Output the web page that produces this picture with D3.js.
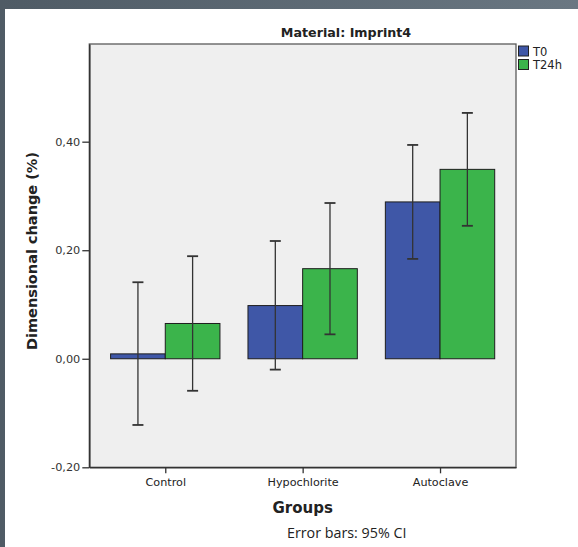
<!DOCTYPE html>
<html>
<head>
<meta charset="utf-8">
<script src="https://cdn.jsdelivr.net/npm/d3@7"></script>
<style>
  html, body { margin: 0; padding: 0; }
  body { width: 578px; height: 547px; overflow: hidden; background: #5d6973; }
  svg { display: block; }
</style>
</head>
<body>
<svg id="chart" width="578" height="547"></svg>
<script>
// data
const groups = ['Control', 'Hypochlorite', 'Autoclave'];
const series = ['T0', 'T24h'];
const t0Means = [0.009, 0.098, 0.289];
const t0Lower = [-0.122, -0.020, 0.184];
const t0Upper = [0.141, 0.217, 0.394];
const t24Means = [0.065, 0.166, 0.349];
const t24Lower = [-0.059, 0.045, 0.245];
const t24Upper = [0.189, 0.287, 0.453];
const yTicks = [-0.2, 0, 0.2, 0.4];

const colors = { T0: '#3f57a7', T24h: '#3bb44b' };

const svg = d3.select('#chart');

// slate frame + white page
const grad = svg.append('defs').append('linearGradient')
  .attr('id', 'frame').attr('x1', 0).attr('x2', 1).attr('y1', 0).attr('y2', 0);
grad.append('stop').attr('offset', 0).attr('stop-color', '#4f5b65');
grad.append('stop').attr('offset', 1).attr('stop-color', '#6a7782');
svg.append('rect').attr('width', 578).attr('height', 547).attr('fill', 'url(#frame)');
svg.append('rect').attr('x', 5).attr('y', 9).attr('width', 573).attr('height', 538).attr('fill', '#ffffff');

const plot = { left: 89.3, right: 516, top: 44, bottom: 467.3 };

const x = d3.scalePoint()
  .domain(groups)
  .range([plot.left, plot.right])
  .padding(0.553);

const barW = x.step() * 0.398;
const xs = d3.scaleBand().domain(series).range([-barW, barW]);

const y = d3.scaleLinear()
  .domain([-0.2, 0.58])
  .range([plot.bottom, plot.top]);

// plot background
svg.append('rect')
  .attr('x', plot.left).attr('y', plot.top)
  .attr('width', plot.right - plot.left).attr('height', plot.bottom - plot.top)
  .attr('fill', '#efefef')
  .attr('stroke', '#5a5a5a').attr('stroke-width', 1.3);

// rows for bars
const rows = [];
groups.forEach((g, i) => {
  rows.push({ group: g, s: 'T0', mean: t0Means[i], lo: t0Lower[i], hi: t0Upper[i] });
  rows.push({ group: g, s: 'T24h', mean: t24Means[i], lo: t24Lower[i], hi: t24Upper[i] });
});

svg.append('g').selectAll('rect')
  .data(rows)
  .enter().append('rect')
  .attr('x', d => x(d.group) + xs(d.s))
  .attr('y', d => y(Math.max(0, d.mean)))
  .attr('width', xs.bandwidth())
  .attr('height', d => Math.abs(y(d.mean) - y(0)))
  .attr('fill', d => colors[d.s])
  .attr('stroke', '#1e1e1e')
  .attr('stroke-width', 1);

// error bars
const eb = svg.append('g').attr('stroke', '#333').attr('stroke-width', 1.3);
const cx = d => x(d.group) + xs(d.s) + xs.bandwidth() / 2;
eb.selectAll('line.v').data(rows).enter().append('line')
  .attr('class', 'v')
  .attr('x1', cx).attr('x2', cx)
  .attr('y1', d => y(d.lo)).attr('y2', d => y(d.hi));
eb.selectAll('line.hi').data(rows).enter().append('line')
  .attr('class', 'hi')
  .attr('x1', d => cx(d) - 5.5).attr('x2', d => cx(d) + 5.5)
  .attr('y1', d => y(d.hi)).attr('y2', d => y(d.hi))
  .attr('stroke-width', 1.8);
eb.selectAll('line.lo').data(rows).enter().append('line')
  .attr('class', 'lo')
  .attr('x1', d => cx(d) - 5.5).attr('x2', d => cx(d) + 5.5)
  .attr('y1', d => y(d.lo)).attr('y2', d => y(d.lo))
  .attr('stroke-width', 1.8);

// axes
const fmt = v => d3.format('.2f')(v).replace('.', ',').replace('\u2212', '-');

const yAxis = svg.append('g')
  .attr('transform', `translate(${plot.left},0)`)
  .call(d3.axisLeft(y).tickValues(yTicks).tickFormat(fmt).tickSize(7).tickSizeOuter(0).tickPadding(2));
yAxis.select('.domain').attr('stroke', '#333').attr('stroke-width', 1.6);
yAxis.selectAll('.tick line').attr('stroke', '#333').attr('stroke-width', 1.3);
yAxis.selectAll('.tick text')
  .attr('font-family', 'DejaVu Sans, sans-serif').attr('font-size', 11.3).attr('fill', '#333');

const xAxis = svg.append('g')
  .attr('transform', `translate(0,${plot.bottom})`)
  .call(d3.axisBottom(x).tickSize(6).tickSizeOuter(0).tickPadding(5));
xAxis.select('.domain').attr('stroke', '#333').attr('stroke-width', 1.6);
xAxis.selectAll('.tick line').attr('stroke', '#333').attr('stroke-width', 1.3);
xAxis.selectAll('.tick text')
  .attr('font-family', 'DejaVu Sans, sans-serif').attr('font-size', 11.2).attr('fill', '#222');

// titles
svg.append('text')
  .attr('x', 346).attr('y', 36.5)
  .attr('text-anchor', 'middle')
  .attr('font-family', 'DejaVu Sans, sans-serif').attr('font-weight', 'bold')
  .attr('font-size', 12.7).attr('fill', '#222')
  .text('Material: Imprint4');

svg.append('text')
  .attr('x', 302.7).attr('y', 512.5)
  .attr('text-anchor', 'middle')
  .attr('font-family', 'DejaVu Sans, sans-serif').attr('font-weight', 'bold')
  .attr('font-size', 15).attr('fill', '#222')
  .text('Groups');

svg.append('text')
  .attr('transform', 'translate(37,251) rotate(-90)')
  .attr('text-anchor', 'middle')
  .attr('font-family', 'DejaVu Sans, sans-serif').attr('font-weight', 'bold')
  .attr('font-size', 14.5).attr('fill', '#222')
  .text('Dimensional change (%)');

svg.append('text')
  .attr('x', 346.7).attr('y', 537.7)
  .attr('text-anchor', 'middle')
  .attr('font-family', 'Open Sans, sans-serif')
  .attr('font-size', 14.3).attr('fill', '#222')
  .text('Error bars: 95% CI');

// legend
const leg = svg.append('g').attr('transform', 'translate(518.5,46)');
series.forEach((s, i) => {
  const row = leg.append('g').attr('transform', `translate(0,${i * 13.5})`);
  row.append('rect')
    .attr('width', 10).attr('height', 10)
    .attr('fill', colors[s]).attr('stroke', '#222').attr('stroke-width', 1);
  row.append('text')
    .attr('x', 14.5).attr('y', 9.5)
    .attr('font-family', 'DejaVu Sans, sans-serif').attr('font-size', 11.5).attr('fill', '#222')
    .text(s);
});
</script>
</body>
</html>
